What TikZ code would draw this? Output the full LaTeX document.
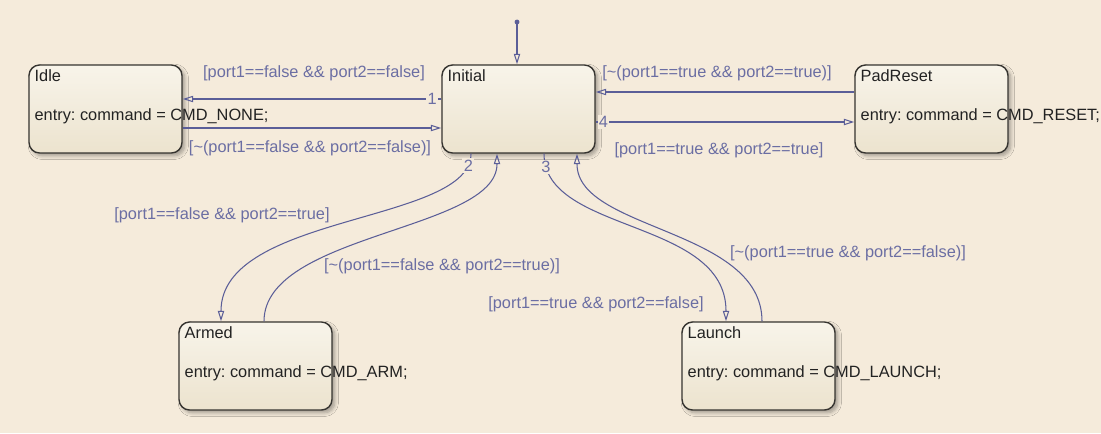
\documentclass[tikz,border=0pt]{standalone}
\usepackage{fontspec}
\setmainfont{Liberation Sans}
\usetikzlibrary{arrows.meta,calc,shadows.blur}
\definecolor{Canvas}{HTML}{F5EBDB}
\definecolor{StateTop}{HTML}{F8F4EA}
\definecolor{StateBottom}{HTML}{ECE3CE}
\definecolor{StateEdge}{HTML}{363430}
\definecolor{TransBlue}{HTML}{5B5E98}
\definecolor{GuardBlue}{HTML}{6B6EA3}
\definecolor{Ink}{HTML}{222222}
\frenchspacing

\begin{document}
\begin{tikzpicture}[x=0.02cm,y=-0.02cm,font=\fontsize{9.3}{11}\selectfont,
    state/.style={draw=StateEdge,line width=0.8pt,rounded corners=6pt,
      top color=StateTop,bottom color=StateBottom,minimum width=3.06cm,minimum height=1.76cm,
      blur shadow={shadow xshift=1.6pt,shadow yshift=-1.6pt,shadow blur steps=6,shadow opacity=35}},
    sname/.style={anchor=base west,text=Ink,inner sep=0pt},
    entry/.style={anchor=base west,text=Ink,inner sep=0pt},
    trans/.style={draw=TransBlue,line width=0.6pt,-{Triangle[open,length=6pt,width=3.6pt]}},
    guard/.style={text=GuardBlue,inner sep=0pt},
    num/.style={text=GuardBlue,fill=Canvas,inner sep=0.8pt}]
  \fill[Canvas] (0,0) rectangle (1101,433);

  % states
  \node[state] (idle) at (105.5,109) {};
  \node[state] (init) at (518.5,109) {};
  \node[state] (padreset) at (931.5,109) {};
  \node[state] (armed) at (255.5,366) {};
  \node[state] (launch) at (758.5,366) {};
  \foreach \s/\name/\cmd in {idle/Idle/NONE,padreset/PadReset/RESET,armed/Armed/ARM,launch/Launch/LAUNCH}{
    \node[sname] (\s-name) at ($(\s.north west)+(6,17)$) {\name};
    \node[entry] (\s-entry) at ($(\s.west)+(6,11)$) {entry: command = CMD\_\cmd;};
  }
  \node[sname] (init-name) at ($(init.north west)+(6,17)$) {Initial};

  % default transition
  \coordinate (dflt) at (517,22);
  \fill[TransBlue] (dflt) circle (1.4pt);
  \draw[trans] (dflt) -- (dflt |- init.north);

  % Initial <-> Idle
  \draw[trans] ($(init.west)+(0,-10)$) -- node[num,pos=0.035] {1} ($(idle.east)+(0,-10)$);
  \draw[trans] ($(idle.east)+(0,19)$) -- ($(init.west)+(0,19)$);
  \node[guard] at (314,73) {[port1==false \&\& port2==false]};
  \node[guard] at (310,148) {[\textasciitilde(port1==false \&\& port2==false)]};

  % Initial <-> PadReset
  \draw[trans] ($(padreset.west)+(0,-17)$) -- ($(init.east)+(0,-17)$);
  \draw[trans] ($(init.east)+(0,13)$) -- node[num,pos=0.03] {4} ($(padreset.west)+(0,13)$);
  \node[guard] at (717,73) {[\textasciitilde(port1==true \&\& port2==true)]};
  \node[guard] at (719,150) {[port1==true \&\& port2==true]};

  % Initial <-> Armed
  \draw[trans] ($(init.south)+(-47.5,0)$) .. controls +(0,70) and +(0,-108) .. node[num,pos=0.06] {2} ($(armed.north)+(-34.5,0)$);
  \draw[trans] ($(armed.north)+(8.5,0)$) .. controls +(0,-88) and +(0,77) .. ($(init.south)+(-21.5,0)$);
  \node[guard] at (222,215) {[port1==false \&\& port2==true]};
  \node[guard] at (442,266) {[\textasciitilde(port1==false \&\& port2==true)]};

  % Initial <-> Launch
  \draw[trans] ($(init.south)+(25.5,0)$) .. controls +(0,80) and +(0,-103) .. node[num,pos=0.06] {3} ($(launch.north)+(-32.5,0)$);
  \draw[trans] ($(launch.north)+(3.5,0)$) .. controls +(0,-93) and +(0,77) .. ($(init.south)+(58.5,0)$);
  \node[guard] at (596,304) {[port1==true \&\& port2==false]};
  \node[guard] at (848,253) {[\textasciitilde(port1==true \&\& port2==false)]};
\end{tikzpicture}
\end{document}
